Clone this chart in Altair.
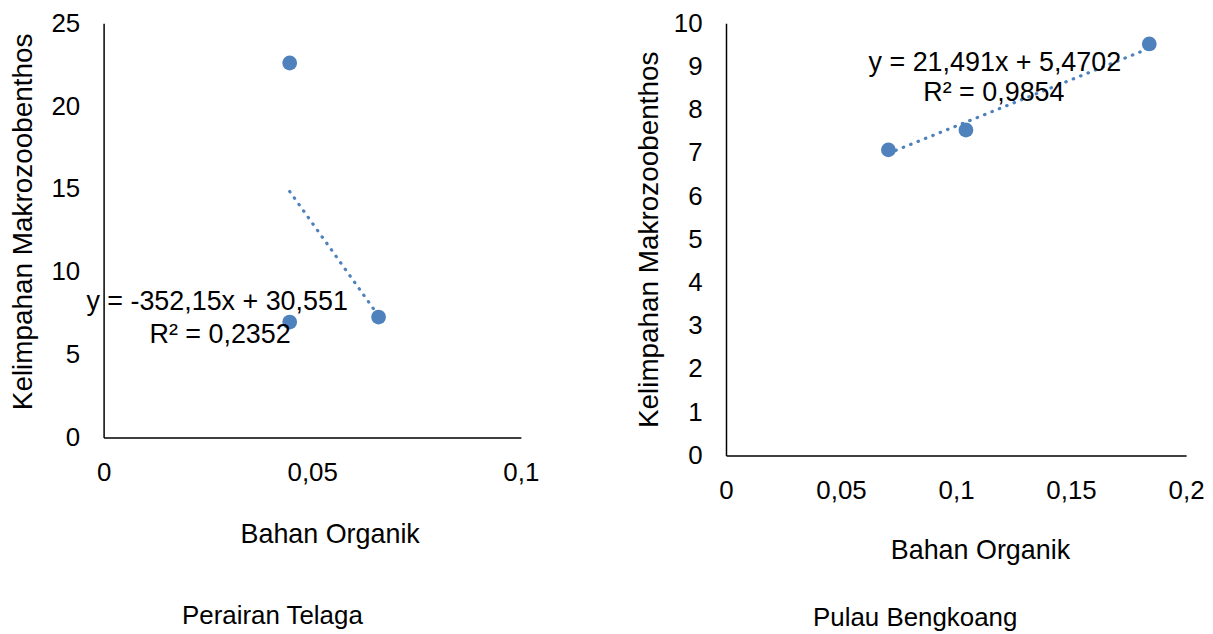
import altair as alt
import pandas as pd

FONT = "Liberation Sans"
BLUE = "#4F81BD"

# Panel 1: Perairan Telaga
t_x = [0.0446, 0.0446, 0.0659]
t_y = [22.6, 6.97, 7.27]
t_trend_x = [0.0446, 0.0659]
t_trend_y = [14.85, 7.34]
t_eq = ["y = -352,15x + 30,551", "R² = 0,2352"]
t_xticks = [0, 0.05, 0.1]

# Panel 2: Pulau Bengkoang
b_x = [0.0706, 0.1043, 0.184]
b_y = [7.07, 7.53, 9.52]
b_trend_x = [0.0706, 0.184]
b_trend_y = [6.99, 9.42]
b_eq = ["y = 21,491x + 5,4702", "R² = 0,9854"]
b_xticks = [0, 0.05, 0.1, 0.15, 0.2]

xlab = "Bahan Organik"
ylab = "Kelimpahan Makrozoobenthos"
comma = "replace(toString(datum.value), '.', ',')"


def panel(px, py, tx, ty, eq, xdom, ydom, xticks, ystep, w, h,
          ytx, yty, xtx, xty, eqpos, title, tdx, toff):
    pts = pd.DataFrame({"x": px, "y": py})
    tr = pd.DataFrame({"x": tx, "y": ty})
    xs = alt.Scale(domain=xdom, nice=False, zero=True)
    ys = alt.Scale(domain=ydom, nice=False, zero=True)
    xax = alt.Axis(values=xticks, labelExpr=comma, title=xlab, grid=False,
                   ticks=False, labelPadding=22, labelFontSize=26,
                   titleFontSize=27, titleFontWeight="normal",
                   titleX=xtx, titleY=xty, titleBaseline="alphabetic",
                   domainColor="#000000", domainWidth=1.5,
                   labelColor="#000000", titleColor="#000000", labelFlush=False)
    yvals = list(range(int(ydom[0]), int(ydom[1]) + 1, ystep))
    yax = alt.Axis(values=yvals, title=ylab, grid=False, ticks=False,
                   labelPadding=24, labelFontSize=26, titleFontSize=28,
                   titleFontWeight="normal", titleX=ytx, titleY=yty,
                   titleBaseline="middle", domainColor="#000000",
                   domainWidth=1.5, labelColor="#000000",
                   titleColor="#000000", labelFlush=False)
    line = alt.Chart(tr).mark_line(color=BLUE, strokeWidth=3.2,
                                   strokeDash=[0.5, 7.5], strokeCap="round").encode(
        x=alt.X("x:Q", scale=xs, axis=xax),
        y=alt.Y("y:Q", scale=ys, axis=yax),
    )
    dots = alt.Chart(pts).mark_circle(color=BLUE, size=220, opacity=1).encode(
        x=alt.X("x:Q", scale=xs),
        y=alt.Y("y:Q", scale=ys),
    )
    layers = [line, dots]
    for text, (ex, ey) in zip(eq, eqpos):
        layers.append(
            alt.Chart(pd.DataFrame({"t": [text]})).mark_text(
                font=FONT, fontSize=27, color="#000000", align="center",
                baseline="middle").encode(
                text="t:N", x=alt.value(ex), y=alt.value(ey))
        )
    return alt.layer(*layers).properties(
        width=w, height=h,
        title=alt.TitleParams(title, orient="bottom", anchor="middle",
                              dx=tdx, offset=toff, fontSize=26,
                              fontWeight="normal", font=FONT,
                              color="#000000"),
    )


left = panel(t_x, t_y, t_trend_x, t_trend_y, t_eq, [0, 0.1], [0, 25],
             t_xticks, 5, 419, 416, -80, 199, 227, 105,
             [(114, 280), (117, 313)], "Perairan Telaga", -40, 56)
right = panel(b_x, b_y, b_trend_x, b_trend_y, b_eq, [0, 0.2], [0, 10],
              b_xticks, 1, 462, 434, -77, 217, 255, 104,
              [(270, 40), (269, 70)], "Pulau Bengkoang", -41, 41)

chart = alt.hconcat(left, right, spacing=95).properties(
    padding={"left": 1, "top": 1, "right": 0, "bottom": 0}
).configure(font=FONT).configure_view(stroke=None)

chart.save("out.html", embed_options={"renderer": "svg", "actions": False})
